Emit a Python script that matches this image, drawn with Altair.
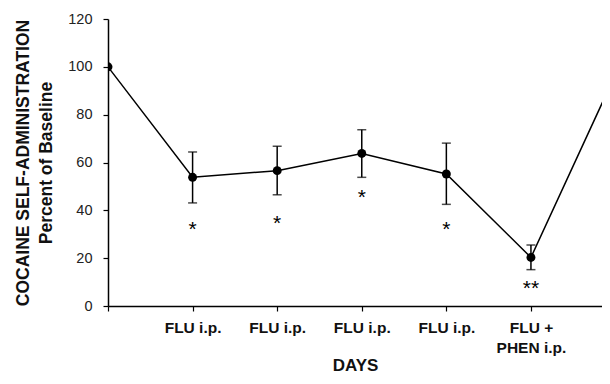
import json
import altair as alt
import pandas as pd

# ---- data ----
days = [0, 1, 2, 3, 4, 5, 6]
means = [100, 53.8, 56.6, 63.8, 55.2, 20.3, 97]
err_hi = [None, 64.4, 66.8, 73.7, 68.1, 25.5, None]
err_lo = [None, 43.1, 46.5, 53.8, 42.5, 15.2, None]
stars = ["", "*", "*", "*", "*", "**", ""]
star_y = [None, 34.3, 36.6, 47.5, 34.4, 9.6, None]
tick_labels = ["", "FLU i.p.", "FLU i.p.", "FLU i.p.", "FLU i.p.", ["FLU +", "PHEN i.p."]]
y_ticks = [0, 20, 40, 60, 80, 100, 120]

df = pd.DataFrame({"day": days, "mean": means, "hi": err_hi, "lo": err_lo,
                   "star": stars, "sy": star_y})
df_err = df.dropna(subset=["hi"])
df_star = df[df["star"] != ""]

FONT = "Liberation Sans"
xscale = alt.Scale(domain=[0, 5.84], nice=False, zero=False)
yscale = alt.Scale(domain=[0, 120], nice=False)

xaxis = alt.Axis(
    title="DAYS", values=[0, 1, 2, 3, 4, 5],
    labelExpr=json.dumps(tick_labels) + "[datum.value]",
    labelFont=FONT, labelFontSize=15.5, labelFontWeight="bold", labelColor="#111",
    labelPadding=9, labelLineHeight=20,
    titleFont=FONT, titleFontSize=17, titleFontWeight="bold", titleColor="#111",
    titlePadding=2, grid=False, tickSize=5,
)
yaxis = alt.Axis(
    title=["COCAINE SELF-ADMINISTRATION", "Percent of Baseline"], values=y_ticks,
    labelFont=FONT, labelFontSize=14.5, labelColor="#222", labelPadding=11,
    titleFont=FONT, titleFontSize=17.5, titleFontWeight="bold", titleColor="#111",
    titleLineHeight=23, titlePadding=12, grid=False, tickSize=5,
)

base = alt.Chart(df)
line = base.mark_line(color="black", strokeWidth=1.5, clip=True).encode(
    x=alt.X("day:Q", scale=xscale, axis=xaxis),
    y=alt.Y("mean:Q", scale=yscale, axis=yaxis),
)
pts = base.mark_circle(size=80, color="black", opacity=1, clip=True).encode(
    x=alt.X("day:Q", scale=xscale), y=alt.Y("mean:Q", scale=yscale)
)
eb = alt.Chart(df_err).mark_rule(color="black", strokeWidth=1.5).encode(
    x=alt.X("day:Q", scale=xscale), y=alt.Y("lo:Q", scale=yscale), y2="hi:Q"
)
cap_hi = alt.Chart(df_err).mark_tick(color="black", thickness=1.5, size=9, orient="horizontal").encode(
    x=alt.X("day:Q", scale=xscale), y=alt.Y("hi:Q", scale=yscale)
)
cap_lo = alt.Chart(df_err).mark_tick(color="black", thickness=1.5, size=9, orient="horizontal").encode(
    x=alt.X("day:Q", scale=xscale), y=alt.Y("lo:Q", scale=yscale)
)
txt = alt.Chart(df_star).mark_text(font=FONT, fontSize=21, color="black", baseline="alphabetic", dy=12).encode(
    x=alt.X("day:Q", scale=xscale), y=alt.Y("sy:Q", scale=yscale), text="star:N"
)

chart = alt.layer(line, eb, cap_hi, cap_lo, pts, txt).properties(
    width=494, height=287,
    autosize=alt.AutoSizeParams(type="none"),
    padding={"left": 100, "top": 11, "right": 0, "bottom": 70},
).configure_view(stroke=None).configure_axis(
    domainColor="black", domainWidth=1.5, tickColor="black", tickWidth=1.2
)

chart.save("out.html", embed_options={"renderer": "svg", "actions": False})
